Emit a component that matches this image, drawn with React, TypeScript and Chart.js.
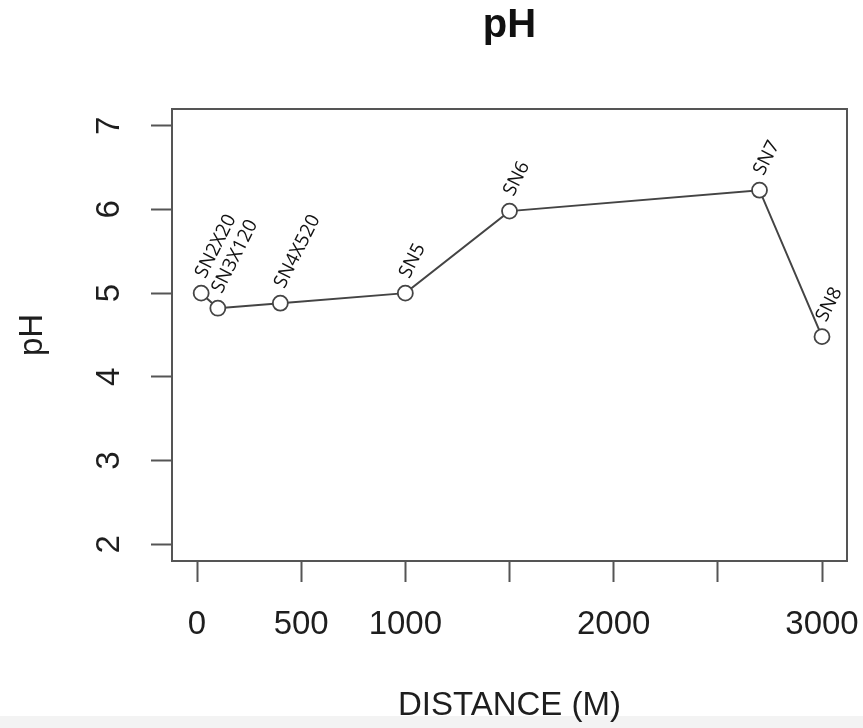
import React, { useEffect, useRef } from 'react';
import { Chart, registerables } from 'chart.js';

Chart.register(...registerables);

// ---- data ----
const stations = ['SN2X20', 'SN3X120', 'SN4X520', 'SN5', 'SN6', 'SN7', 'SN8'];
const distances = [20, 100, 400, 1000, 1500, 2700, 3000];
const phValues = [5.0, 4.82, 4.88, 5.0, 5.98, 6.23, 4.48];
const xTickValues = [0, 500, 1000, 1500, 2000, 2500, 3000];
const xTickLabels = ['0', '500', '1000', '', '2000', '', '3000'];
const yTickValues = [2, 3, 4, 5, 6, 7];
const yTickLabels = ['2', '3', '4', '5', '6', '7'];

const TEXT = '#1e1e1e';
const LINE = '#555555';
const FONT = '"Liberation Sans", Arial, sans-serif';

const decorPlugin = {
  id: 'decor',
  afterDatasetsDraw(chart: any) {
    const { ctx, chartArea, scales } = chart;
    const ys = scales.y;
    ctx.save();
    // plot box
    ctx.strokeStyle = LINE;
    ctx.lineWidth = 2;
    ctx.strokeRect(chartArea.left, chartArea.top, chartArea.right - chartArea.left, chartArea.bottom - chartArea.top);
    // y tick labels (parallel to the axis)
    ctx.fillStyle = TEXT;
    ctx.font = `33px ${FONT}`;
    ctx.textAlign = 'center';
    ctx.textBaseline = 'middle';
    yTickValues.forEach((v, i) => {
      const py = ys.getPixelForValue(v);
      ctx.save();
      ctx.translate(110, py);
      ctx.rotate(-Math.PI / 2);
      ctx.fillText(yTickLabels[i], 0, 0);
      ctx.restore();
    });
    // point labels
    const meta = chart.getDatasetMeta(0);
    ctx.font = `19px "Open Sans", sans-serif`;
    ctx.textAlign = 'left';
    ctx.textBaseline = 'alphabetic';
    ctx.fillStyle = '#111111';
    meta.data.forEach((pt: any, i: number) => {
      ctx.save();
      ctx.translate(pt.x + 4, pt.y - 14);
      ctx.rotate((-63 * Math.PI) / 180);
      ctx.fillText(stations[i], 0, 0);
      ctx.restore();
    });
    ctx.restore();
  },
};

export default function App() {
  const ref = useRef<HTMLCanvasElement | null>(null);

  useEffect(() => {
    if (!ref.current) return;
    const chart = new Chart(ref.current, {
      type: 'line',
      data: {
        datasets: [
          {
            data: distances.map((d, i) => ({ x: d, y: phValues[i] })),
            borderColor: '#444444',
            borderWidth: 2,
            pointRadius: 7.5,
            pointHoverRadius: 7.5,
            pointBorderWidth: 1.8,
            pointBorderColor: '#444444',
            pointBackgroundColor: '#ffffff',
            tension: 0,
          },
        ],
      },
      options: {
        animation: false,
        responsive: false,
        maintainAspectRatio: false,
        events: [],
        layout: { padding: { left: 0, right: 16, top: 0, bottom: 0 } },
        plugins: {
          legend: { display: false },
          tooltip: { enabled: false },
          title: {
            display: true,
            text: 'pH',
            color: '#111111',
            fullSize: false,
            font: { family: FONT, size: 40, weight: 'bold', lineHeight: 1.2 },
            padding: { top: 2, bottom: 59 },
          },
        },
        scales: {
          x: {
            type: 'linear',
            min: -120,
            max: 3120,
            afterBuildTicks: (scale: any) => {
              scale.ticks = xTickValues.map((v) => ({ value: v }));
            },
            afterFit: (scale: any) => {
              scale.height = 728 - 561;
              scale.paddingLeft = 0;
              scale.paddingRight = 0;
            },
            grid: {
              display: true,
              drawOnChartArea: false,
              drawTicks: true,
              tickLength: 21,
              tickColor: LINE,
              tickWidth: 2,
            },
            border: { display: false },
            ticks: {
              autoSkip: false,
              maxRotation: 0,
              minRotation: 0,
              padding: 23,
              color: TEXT,
              font: { family: FONT, size: 33, lineHeight: 1.2 },
              callback: (value: any) => {
                const idx = xTickValues.indexOf(Number(value));
                return idx >= 0 ? xTickLabels[idx] : '';
              },
            },
            title: {
              display: true,
              text: 'DISTANCE (M)',
              color: TEXT,
              font: { family: FONT, size: 33, lineHeight: 1.2 },
              padding: { top: 0, bottom: 2 },
            },
          },
          y: {
            type: 'linear',
            min: 1.8,
            max: 7.2,
            afterBuildTicks: (scale: any) => {
              scale.ticks = yTickValues.map((v) => ({ value: v }));
            },
            afterFit: (scale: any) => {
              scale.width = 172;
              scale.paddingTop = 0;
              scale.paddingBottom = 0;
            },
            grid: {
              display: true,
              drawOnChartArea: false,
              drawTicks: true,
              tickLength: 21,
              tickColor: LINE,
              tickWidth: 2,
            },
            border: { display: false },
            ticks: { display: false },
            title: {
              display: true,
              text: 'pH',
              color: TEXT,
              font: { family: FONT, size: 33, lineHeight: 1.2 },
              padding: { top: 13, bottom: 0 },
            },
          },
        },
      },
      plugins: [decorPlugin],
    } as any);
    return () => chart.destroy();
  }, []);

  return (
    <div
      style={{
        position: 'fixed',
        left: 0,
        top: 0,
        width: 863,
        height: 728,
        background: 'linear-gradient(to bottom, #ffffff 0px, #ffffff 716px, #f3f3f3 716px, #f3f3f3 728px)',
      }}
    >
      <canvas ref={ref} width={863} height={728} style={{ display: 'block', width: 863, height: 728 }} />
    </div>
  );
}
